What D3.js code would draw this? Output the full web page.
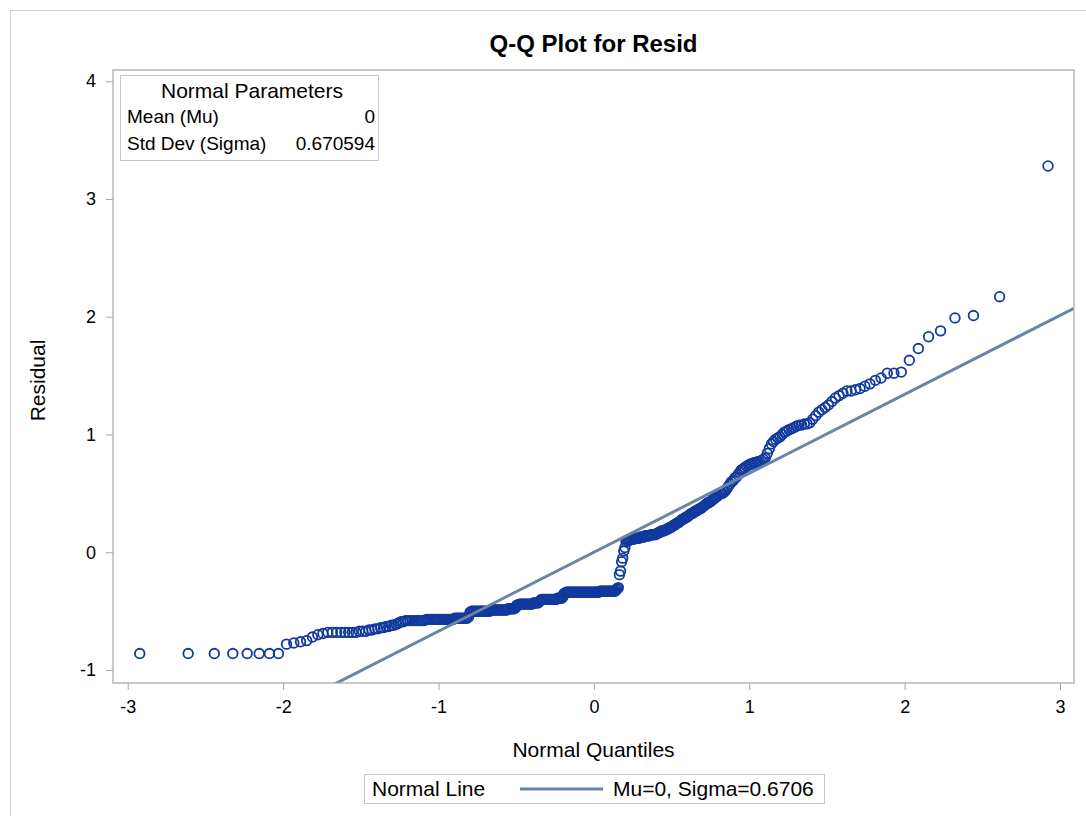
<!DOCTYPE html>
<html>
<head>
<meta charset="utf-8">
<script src="https://cdn.jsdelivr.net/npm/d3@7"></script>
<style>
  body { margin: 0; background: #fff; }
  svg text { font-family: "Liberation Sans", Arial, sans-serif; fill: #000; }
</style>
</head>
<body>
<div id="chart"></div>
<script>
// sorted residuals (n = 360)
var residuals = [
  -0.86, -0.86, -0.86, -0.86, -0.86, -0.86, -0.86, -0.86,
  -0.78, -0.77, -0.76, -0.75, -0.72, -0.70, -0.69,
  -0.68, -0.68, -0.68, -0.68, -0.68, -0.68, -0.68, -0.68, -0.67, -0.67,
  -0.67, -0.66, -0.66, -0.65, -0.65, -0.64, -0.64, -0.63, -0.63, -0.62, -0.62, -0.61, -0.60,
  -0.59, -0.59, -0.58, -0.58, -0.58, -0.58, -0.58, -0.58, -0.58, -0.58, -0.58, -0.58,
  -0.57, -0.57, -0.57, -0.57, -0.57, -0.57, -0.57, -0.57, -0.57, -0.57, -0.57, -0.57, -0.57,
  -0.57, -0.57, -0.57, -0.56, -0.56, -0.56, -0.56, -0.56, -0.56, -0.56, -0.56, -0.56, -0.55,
  -0.51, -0.50, -0.50, -0.50, -0.50, -0.50, -0.50, -0.50, -0.50, -0.50, -0.50, -0.50, -0.50,
  -0.50, -0.50, -0.49, -0.49, -0.49, -0.49, -0.49, -0.49, -0.49, -0.49, -0.49, -0.49, -0.49,
  -0.49, -0.49, -0.48, -0.48, -0.48, -0.48, -0.48, -0.48, -0.47,
  -0.45, -0.45, -0.44, -0.44, -0.44, -0.44, -0.44, -0.44, -0.44, -0.44,
  -0.44, -0.44, -0.44, -0.44, -0.43, -0.43, -0.43, -0.43, -0.43, -0.42,
  -0.41, -0.40, -0.40, -0.40, -0.40, -0.40, -0.40, -0.40, -0.40, -0.40, -0.40,
  -0.40, -0.40, -0.40, -0.40, -0.39, -0.39, -0.39, -0.39, -0.39, -0.38,
  -0.35, -0.35, -0.34, -0.34, -0.34, -0.34, -0.34, -0.34, -0.34, -0.34, -0.34,
  -0.34, -0.34, -0.34, -0.34, -0.34, -0.34, -0.34, -0.34, -0.34, -0.34, -0.34,
  -0.34, -0.34, -0.34, -0.34, -0.34, -0.34, -0.34, -0.34, -0.34, -0.34, -0.34,
  -0.33, -0.33, -0.33, -0.33, -0.33, -0.33, -0.33, -0.33, -0.33, -0.33, -0.33, -0.33, -0.33, -0.33, -0.33,
  -0.32, -0.31,
  -0.30, -0.19, -0.16, -0.08, -0.05, 0.01, 0.04,
  0.09, 0.10, 0.10, 0.10, 0.11, 0.11, 0.11, 0.11, 0.12, 0.12, 0.12, 0.12, 0.12, 0.13,
  0.13, 0.13, 0.13, 0.14, 0.14, 0.14, 0.14, 0.14, 0.15, 0.15, 0.15, 0.15, 0.15,
  0.16, 0.16, 0.17, 0.17, 0.18, 0.18, 0.18, 0.19, 0.19, 0.20, 0.20,
  0.21, 0.21, 0.22, 0.23, 0.23, 0.24, 0.25, 0.25, 0.26,
  0.27, 0.28, 0.28, 0.29, 0.30, 0.30, 0.31, 0.32,
  0.33, 0.33, 0.34, 0.35, 0.35, 0.36, 0.37, 0.37, 0.38,
  0.39, 0.40, 0.41, 0.42, 0.42, 0.43, 0.44, 0.45, 0.46,
  0.47, 0.48, 0.49, 0.50, 0.50, 0.51, 0.52,
  0.54, 0.56, 0.58, 0.60, 0.61, 0.63, 0.64,
  0.66, 0.68, 0.70, 0.71, 0.72, 0.73, 0.74, 0.75, 0.75, 0.76, 0.76, 0.77, 0.77, 0.78, 0.79, 0.80,
  0.84, 0.88, 0.92, 0.94, 0.96, 0.97, 0.98,
  1.00, 1.02, 1.03, 1.04, 1.05, 1.06, 1.07, 1.08, 1.08, 1.09, 1.09, 1.10,
  1.13, 1.16, 1.19, 1.21, 1.23, 1.25, 1.28, 1.31, 1.33, 1.35, 1.37, 1.37,
  1.38, 1.39, 1.41, 1.43, 1.46, 1.48, 1.52, 1.52, 1.53,
  1.63, 1.73, 1.83, 1.88, 1.99, 2.01, 2.17, 3.28
];
var mu = 0;
var sigma = 0.670594;
var xTicks = [-3, -2, -1, 0, 1, 2, 3];
var yTicks = [-1, 0, 1, 2, 3, 4];
var paramRows = [["Mean (Mu)", "0"], ["Std Dev (Sigma)", "0.670594"]];
var legendLabel = "Mu=0, Sigma=0.6706";

// inverse standard normal cdf (Acklam)
function qnorm(p) {
  var a = [-39.69683028665376, 220.9460984245205, -275.9285104469687, 138.3577518672690, -30.66479806614716, 2.506628277459239];
  var b = [-54.47609879822406, 161.5858368580409, -155.6989798598866, 66.80131188771972, -13.28068155288572];
  var c = [-0.007784894002430293, -0.3223964580411365, -2.400758277161838, -2.549732539343734, 4.374664141464968, 2.938163982698783];
  var d = [0.007784695709041462, 0.3224671290700398, 2.445134137142996, 3.754408661907416];
  var plow = 0.02425, q, r;
  if (p < plow) {
    q = Math.sqrt(-2 * Math.log(p));
    return (((((c[0]*q+c[1])*q+c[2])*q+c[3])*q+c[4])*q+c[5]) / ((((d[0]*q+d[1])*q+d[2])*q+d[3])*q+1);
  }
  if (p > 1 - plow) {
    q = Math.sqrt(-2 * Math.log(1 - p));
    return -(((((c[0]*q+c[1])*q+c[2])*q+c[3])*q+c[4])*q+c[5]) / ((((d[0]*q+d[1])*q+d[2])*q+d[3])*q+1);
  }
  q = p - 0.5; r = q * q;
  return (((((a[0]*r+a[1])*r+a[2])*r+a[3])*r+a[4])*r+a[5])*q / (((((b[0]*r+b[1])*r+b[2])*r+b[3])*r+b[4])*r+1);
}

function drawChart() {
  var n = residuals.length;
  var data = residuals.map(function (v, i) {
    return { q: qnorm((i + 1 - 0.375) / (n + 0.25)), r: v };
  });

  var W = 1086, H = 816;
  var pLeft = 113, pRight = 1074, pTop = 70, pBottom = 683;
  var frameColor = "#a5a5a5";
  var markColor = "#12399d";
  var lineColor = "#6c84a6";

  var svg = d3.select("#chart").append("svg")
    .attr("width", W)
    .attr("height", H);

  // outer border of the graph
  svg.append("rect")
    .attr("x", 10.5).attr("y", 10.5)
    .attr("width", W + 20).attr("height", H + 20)
    .attr("fill", "none")
    .attr("stroke", "#cfcfcf");

  var x = d3.scaleLinear().domain([-3.095, 3.09]).range([pLeft, pRight]);
  var y = d3.scaleLinear().domain([-1.11, 4.095]).range([pBottom, pTop]);

  svg.append("text")
    .attr("x", (pLeft + pRight) / 2)
    .attr("y", 52)
    .attr("text-anchor", "middle")
    .style("font-size", "24px")
    .style("font-weight", "bold")
    .text("Q-Q Plot for Resid");

  var fmt = function (d) { return String(d); };
  var xAxis = svg.append("g")
    .attr("transform", "translate(0," + pBottom + ")")
    .call(d3.axisBottom(x).tickValues(xTicks).tickSize(7).tickPadding(10).tickFormat(fmt));
  var yAxis = svg.append("g")
    .attr("transform", "translate(" + pLeft + ",0)")
    .call(d3.axisLeft(y).tickValues(yTicks).tickSize(7).tickPadding(10).tickFormat(fmt));
  [xAxis, yAxis].forEach(function (g) {
    g.select(".domain").remove();
    g.selectAll(".tick line").attr("stroke", frameColor);
    g.selectAll(".tick text").style("font-size", "18px").attr("fill", "#000");
  });

  // clip for marks
  svg.append("clipPath").attr("id", "plotclip")
    .append("rect")
    .attr("x", pLeft).attr("y", pTop)
    .attr("width", pRight - pLeft).attr("height", pBottom - pTop);

  var plot = svg.append("g").attr("clip-path", "url(#plotclip)");

  plot.selectAll("circle")
    .data(data)
    .enter()
    .append("circle")
    .attr("cx", function (d) { return x(d.q); })
    .attr("cy", function (d) { return y(d.r); })
    .attr("r", 4.8)
    .attr("fill", "none")
    .attr("stroke", markColor)
    .attr("stroke-width", 1.8);

  // normal reference line: mu + sigma * q
  var qLo = x.domain()[0], qHi = x.domain()[1];
  plot.append("line")
    .attr("x1", x(qLo)).attr("y1", y(mu + sigma * qLo))
    .attr("x2", x(qHi)).attr("y2", y(mu + sigma * qHi))
    .attr("stroke", lineColor)
    .attr("stroke-width", 3);

  // plot frame
  svg.append("rect")
    .attr("x", pLeft).attr("y", pTop)
    .attr("width", pRight - pLeft).attr("height", pBottom - pTop)
    .attr("fill", "none")
    .attr("stroke", frameColor)
    .attr("stroke-width", 1.2);

  // axis labels
  svg.append("text")
    .attr("x", (pLeft + pRight) / 2)
    .attr("y", 757)
    .attr("text-anchor", "middle")
    .style("font-size", "21px")
    .text("Normal Quantiles");
  svg.append("text")
    .attr("transform", "translate(45," + ((pTop + pBottom) / 2 + 4) + ") rotate(-90)")
    .attr("text-anchor", "middle")
    .style("font-size", "21px")
    .text("Residual");

  // inset table of normal parameters
  var inset = svg.append("g");
  inset.append("rect")
    .attr("x", 120.5).attr("y", 75.5)
    .attr("width", 258).attr("height", 85)
    .attr("fill", "#fff")
    .attr("stroke", "#c8c8c8");
  inset.append("text")
    .attr("x", 252).attr("y", 98)
    .attr("text-anchor", "middle")
    .style("font-size", "21px")
    .text("Normal Parameters");
  paramRows.forEach(function (row, i) {
    inset.append("text")
      .attr("x", 127).attr("y", 123 + i * 27)
      .style("font-size", "19px")
      .text(row[0]);
    inset.append("text")
      .attr("x", 375).attr("y", 123 + i * 27)
      .attr("text-anchor", "end")
      .style("font-size", "19px")
      .text(row[1]);
  });

  // legend
  var legend = svg.append("g");
  legend.append("rect")
    .attr("x", 364.5).attr("y", 774.5)
    .attr("width", 460).attr("height", 29)
    .attr("fill", "#fff")
    .attr("stroke", "#c8c8c8");
  legend.append("text")
    .attr("x", 372).attr("y", 796)
    .style("font-size", "21px")
    .text("Normal Line");
  legend.append("line")
    .attr("x1", 520).attr("x2", 603)
    .attr("y1", 789).attr("y2", 789)
    .attr("stroke", lineColor)
    .attr("stroke-width", 3);
  legend.append("text")
    .attr("x", 613).attr("y", 796)
    .style("font-size", "21px")
    .text(legendLabel);
}

drawChart();
</script>
</body>
</html>
